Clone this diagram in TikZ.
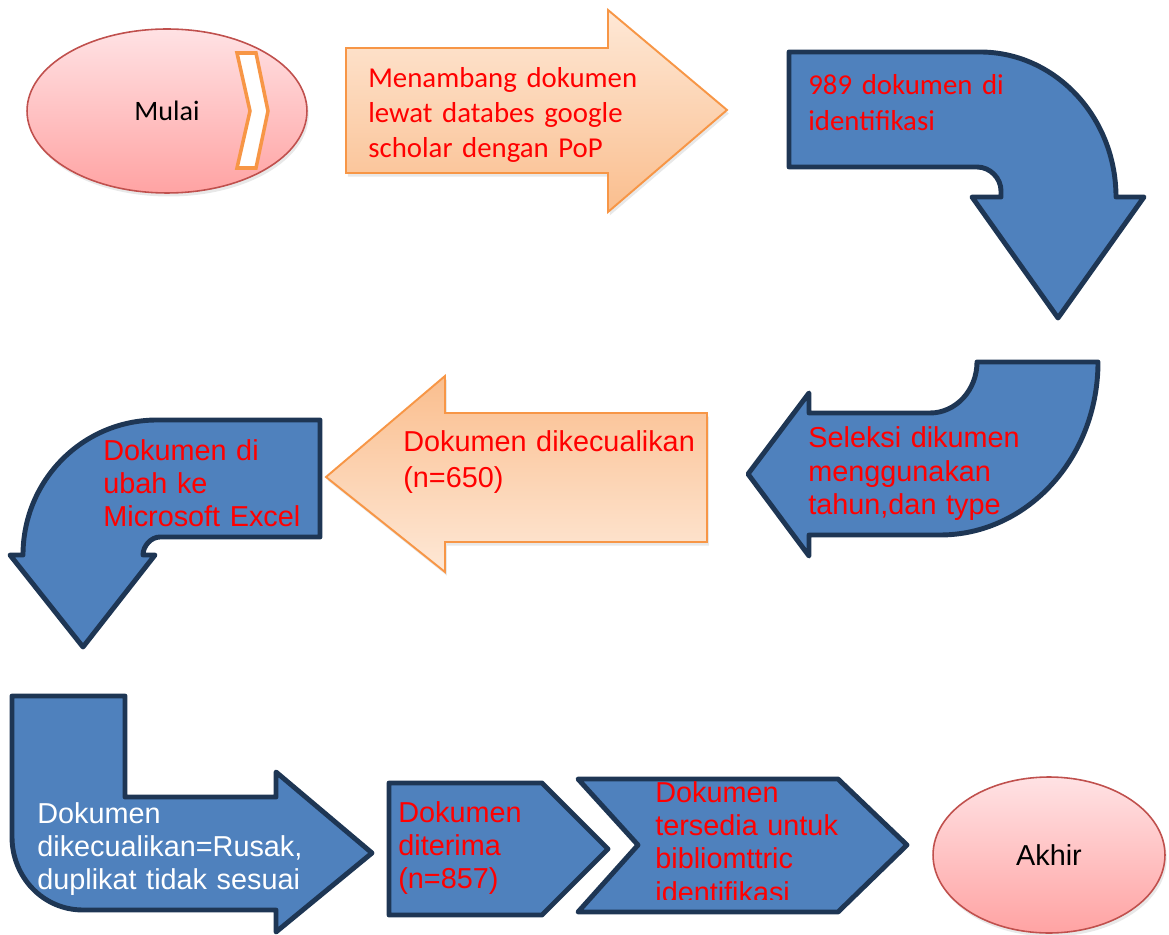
\documentclass[tikz,border=0pt]{standalone}
\usepackage{fontspec}
\setmainfont{Liberation Sans}
\newfontfamily\calibri{Carlito}
\usepackage{tikz}
\usetikzlibrary{shapes.geometric, shadows}

\definecolor{stepblue}{RGB}{79,129,189}
\definecolor{navyline}{RGB}{30,54,84}
\definecolor{orangeline}{RGB}{247,150,70}
\definecolor{peachtop}{RGB}{254,232,214}
\definecolor{peachbottom}{RGB}{250,190,142}
\definecolor{pinkline}{RGB}{192,80,77}
\definecolor{pinktop}{RGB}{255,226,228}
\definecolor{pinkbottom}{RGB}{255,163,163}

\begin{document}
\begin{tikzpicture}[
			x=0.02cm, y=-0.02cm,
			bluearrow/.style={draw=navyline, fill=stepblue, line width=2.8pt, line join=round},
			orangearrow/.style={draw=orangeline, line width=1.1pt, drop shadow={opacity=0.18, shadow xshift=1pt, shadow yshift=-2pt}},
			startend/.style={ellipse, draw=pinkline, line width=0.9pt, top color=pinktop, bottom color=pinkbottom, drop shadow={opacity=0.18, shadow xshift=1pt, shadow yshift=-2pt}, inner sep=0pt},
			steptext/.style={anchor=base west, inner sep=0pt, text width=7cm, align=left, text=red, font=\fontsize{16.4}{19}\selectfont},
			calibritext/.style={steptext, font=\calibri\fontsize{16.4}{19.8}\selectfont}
			]
			\useasboundingbox (0,0) rectangle (1169,935);
			
			% start
			\node[startend, minimum width=5.6cm, minimum height=3.28cm, font=\calibri\fontsize{16}{19}\selectfont] (mulai) at (167,111) {Mulai};
			\path[draw=orangeline, fill=white, line width=2pt] (237,53) -- (256,53) -- (268,111) -- (256,168) -- (237,168) -- (250,111) -- cycle;
			
			% row 1
			\path[orangearrow, top color=peachtop, bottom color=peachbottom] (346,48) -- (608,48) -- (608,10) -- (727,110) -- (608,212) -- (608,173) -- (346,173) -- cycle;
			\node[calibritext] (menambang) at (368,88) {Menambang dokumen\\lewat databes google\\scholar dengan PoP};
			
			\path[bluearrow] (789,52) -- (980,52) .. controls (1055,52) and (1116,117) .. (1116,197) -- (1144,197) -- (1058,318) -- (972,197) -- (1001,197) -- (1001,191) .. controls (1001,178) and (990,167) .. (977,167) -- (789,167) -- cycle;
			\node[calibritext, font=\calibri\fontsize{16.4}{20.4}\selectfont] (identifikasi) at (808,95) {989 dokumen di\\identifikasi};
			
			% row 2
			\path[bluearrow] (748,474) -- (809,393) -- (809,413) -- (930,413) .. controls (956,413) and (977,390) .. (977,362) -- (1098,362) .. controls (1098,458) and (1027,535) .. (940,535) -- (809,535) -- (809,556) -- cycle;
			\node[steptext] (seleksi) at (808,448) {Seleksi dikumen\\menggunakan\\tahun,dan type};
			
			\path[orangearrow, top color=peachbottom, bottom color=peachtop] (326,477) -- (445,376) -- (445,413) -- (707,413) -- (707,542) -- (445,542) -- (445,572) -- cycle;
			\node[steptext, font=\fontsize{16.4}{20}\selectfont] (dikecualikan) at (403,452) {Dokumen dikecualikan\\(n=650)};
			
			\path[bluearrow] (320,420) -- (320,537) -- (160,537) .. controls (151,537) and (143,546) .. (143,555) -- (155,555) -- (83,647) -- (10,555) -- (23,555) .. controls (23,480) and (83,420) .. (157,420) -- cycle;
			\node[steptext] (excel) at (103,460) {Dokumen di\\ubah ke\\Microsoft Excel};
			
			% row 3
			\path[bluearrow] (12,696) -- (125,696) -- (125,797) -- (276,797) -- (276,772) -- (372,853) -- (276,932) -- (276,910) -- (83,910) .. controls (43,910) and (12,877) .. (12,837) -- cycle;
			\node[steptext, text=white] (rusak) at (37,823) {Dokumen\\dikecualikan=Rusak,\\duplikat tidak sesuai};
			
			\path[bluearrow] (389,783) -- (542,783) -- (608,849) -- (542,915) -- (389,915) -- cycle;
			\node[steptext] (diterima) at (398,822) {Dokumen\\diterima\\(n=857)};
			
			\path[bluearrow] (578,779) -- (838,779) -- (907,845) -- (838,912) -- (578,912) -- (638,845) -- cycle;
			\begin{scope}
				\clip (578,779) rectangle (907,899);
				\node[steptext] (tersedia) at (655,802) {Dokumen\\tersedia untuk\\bibliomttric\\identifikasi};
			\end{scope}
			
			% end
			\node[startend, minimum width=4.64cm, minimum height=3.12cm, font=\fontsize{16.4}{19}\selectfont] (akhir) at (1049,855) {Akhir};
		\end{tikzpicture}
\end{document}
